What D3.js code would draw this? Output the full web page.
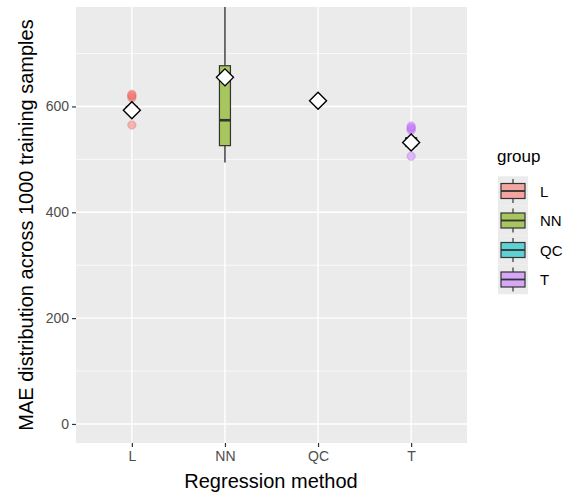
<!DOCTYPE html>
<html><head><meta charset="utf-8">
<script src="https://cdn.jsdelivr.net/npm/d3@7/dist/d3.min.js"></script>
<style>body{margin:0;background:#fff;} svg{display:block;font-family:"Liberation Sans",Arial,sans-serif;}</style>
</head><body>
<svg id="chart" width="570" height="498"></svg>
<script>
const categories = ["L", "NN", "QC", "T"];
const fillColors = ["#F8766D", "#7CAE00", "#00BFC4", "#C77CFF"];
const whiskerLow  = [578, 494, 606, 516];
const q1          = [588, 526, 609, 525];
const median      = [594, 574, 611, 533];
const q3          = [600, 677, 613, 541];
const whiskerHigh = [610, 1100, 616, 549];
const means       = [593, 655, 611, 532];
const outliers = [
  [616, 619, 621, 623, 565],
  [],
  [],
  [555, 558, 560, 563, 506]
];
const yTicks = [0, 200, 400, 600];
const yMinor = [100, 300, 500, 700];

const svg = d3.select("#chart");
const P = {left: 76, right: 467, top: 7, bottom: 443};
const step = (P.right - P.left) / 4.2;

const x = d3.scalePoint().domain(categories).range([P.left + 0.6 * step, P.right - 0.6 * step]);
const y = d3.scaleLinear().domain([-36, 788]).range([P.bottom, P.top]);

svg.append("rect").attr("x", P.left).attr("y", P.top).attr("width", P.right - P.left).attr("height", P.bottom - P.top).attr("fill", "#EBEBEB");
svg.append("clipPath").attr("id", "pc").append("rect").attr("x", P.left).attr("y", P.top).attr("width", P.right - P.left).attr("height", P.bottom - P.top);

const g = svg.append("g").attr("clip-path", "url(#pc)");
g.selectAll(".minor").data(yMinor).join("line").attr("x1", P.left).attr("x2", P.right)
  .attr("y1", d => y(d)).attr("y2", d => y(d)).attr("stroke", "#fff").attr("stroke-width", 0.7);
g.selectAll(".major").data(yTicks).join("line").attr("x1", P.left).attr("x2", P.right)
  .attr("y1", d => y(d)).attr("y2", d => y(d)).attr("stroke", "#fff").attr("stroke-width", 1.4);
g.selectAll(".vmajor").data(categories).join("line").attr("y1", P.top).attr("y2", P.bottom)
  .attr("x1", d => x(d)).attr("x2", d => x(d)).attr("stroke", "#fff").attr("stroke-width", 1.4);

const boxW = 11;
categories.forEach((c, i) => {
  const cx = x(c);
  const col = d3.color(fillColors[i]);
  const fill = d3.interpolateRgb("#EBEBEB", fillColors[i])(0.6);
  g.append("line").attr("x1", cx).attr("x2", cx).attr("y1", y(whiskerHigh[i])).attr("y2", y(q3[i])).attr("stroke", "#333").attr("stroke-width", 1.4);
  g.append("line").attr("x1", cx).attr("x2", cx).attr("y1", y(q1[i])).attr("y2", y(whiskerLow[i])).attr("stroke", "#333").attr("stroke-width", 1.4);
  g.append("rect").attr("x", cx - boxW / 2).attr("width", boxW).attr("y", y(q3[i])).attr("height", y(q1[i]) - y(q3[i]))
    .attr("fill", fill).attr("stroke", "#333").attr("stroke-width", 1.2);
  g.append("line").attr("x1", cx - boxW / 2).attr("x2", cx + boxW / 2).attr("y1", y(median[i])).attr("y2", y(median[i])).attr("stroke", "#333").attr("stroke-width", 2.6);
  outliers[i].forEach(v => {
    g.append("circle").attr("cx", cx).attr("cy", y(v)).attr("r", 4.2).attr("fill", fillColors[i]).attr("fill-opacity", 0.5)
      .attr("stroke", col.darker(0.6)).attr("stroke-opacity", 0.35).attr("stroke-width", 0.8);
  });
  const my = y(means[i]), s = 8.5;
  g.append("path").attr("d", `M${cx},${my - s}L${cx + s},${my}L${cx},${my + s}L${cx - s},${my}Z`)
    .attr("fill", "#fff").attr("stroke", "#000").attr("stroke-width", 1.4);
});

// axes
const yAxis = svg.append("g").attr("transform", `translate(${P.left},0)`)
  .call(d3.axisLeft(y).tickValues(yTicks).tickSize(4).tickPadding(3));
const xAxis = svg.append("g").attr("transform", `translate(0,${P.bottom})`)
  .call(d3.axisBottom(x).tickSize(4).tickPadding(4));
[yAxis, xAxis].forEach(a => {
  a.select(".domain").remove();
  a.selectAll(".tick line").attr("stroke", "#333").attr("stroke-width", 1.2);
  a.selectAll(".tick text").attr("fill", "#4D4D4D").style("font-size", "14px");
});

svg.append("text").attr("x", 271).attr("y", 488).attr("text-anchor", "middle")
  .style("font-size", "20px").attr("fill", "#000").text("Regression method");
svg.append("text").attr("transform", `translate(33,${(P.top + P.bottom) / 2}) rotate(-90)`).attr("text-anchor", "middle")
  .style("font-size", "20px").attr("fill", "#000").text("MAE distribution across 1000 training samples");

// legend
const lg = svg.append("g");
lg.append("text").attr("x", 497).attr("y", 162).style("font-size", "17px").attr("fill", "#000").text("group");
categories.forEach((c, i) => {
  const cy = 191 + i * 29.5;
  const fill = d3.interpolateRgb("#EBEBEB", fillColors[i])(0.6);
  lg.append("rect").attr("x", 498).attr("y", cy - 14.75).attr("width", 30).attr("height", 29.5).attr("fill", "#EBEBEB");
  lg.append("line").attr("x1", 513).attr("x2", 513).attr("y1", cy - 12).attr("y2", cy + 12).attr("stroke", "#333").attr("stroke-width", 1.2);
  lg.append("rect").attr("x", 501).attr("y", cy - 7.5).attr("width", 24).attr("height", 15).attr("fill", fill).attr("stroke", "#333").attr("stroke-width", 1.2);
  lg.append("line").attr("x1", 501).attr("x2", 525).attr("y1", cy).attr("y2", cy).attr("stroke", "#333").attr("stroke-width", 1.8);
  lg.append("text").attr("x", 540).attr("y", cy + 5.5).style("font-size", "15px").attr("fill", "#000").text(c);
});
</script>
</body></html>
